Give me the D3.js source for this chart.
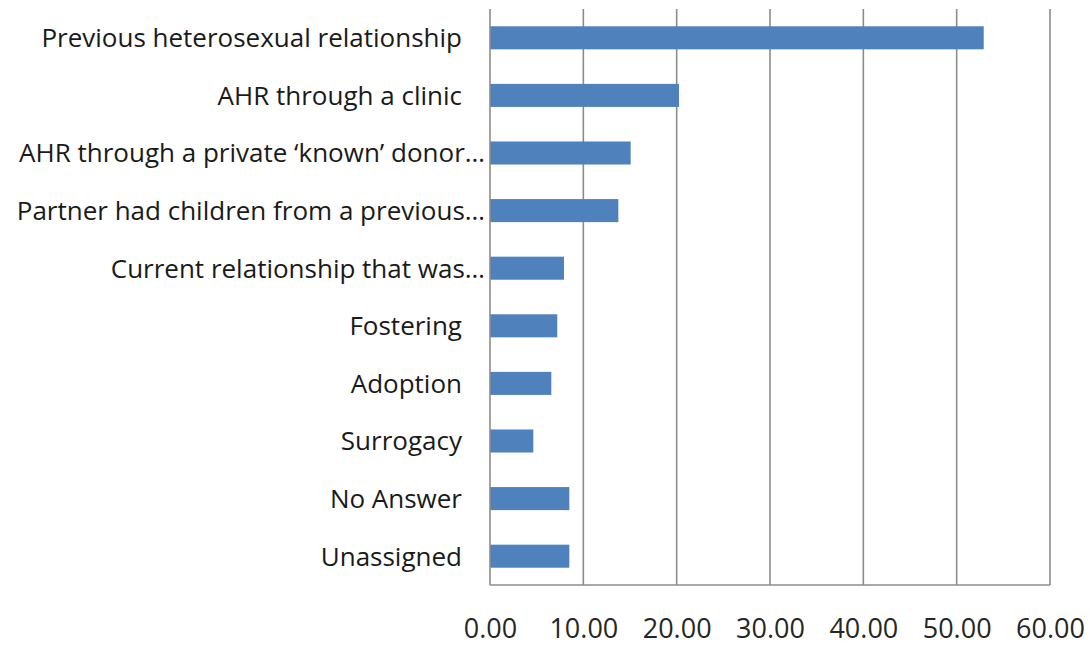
<!DOCTYPE html>
<html><head><meta charset="utf-8">
<script src="https://cdn.jsdelivr.net/npm/d3@7"></script>
<style>body{margin:0;background:#fff}</style>
</head><body><svg id="c" width="1092" height="646"></svg>
<script>
const categories = ["Previous heterosexual relationship","AHR through a clinic","AHR through a private \u2018known\u2019 donor\u2026","Partner had children from a previous\u2026","Current relationship that was\u2026","Fostering","Adoption","Surrogacy","No Answer","Unassigned"];
const values = [52.9,20.25,15.07,13.75,7.93,7.21,6.57,4.64,8.5,8.5];
const ticks = [0,10,20,30,40,50,60];

const svg = d3.select("#c");
const m = {l:490,r:1050,t:9,b:585};
const x = d3.scaleLinear().domain([0,60]).range([m.l,m.r]);
const y = d3.scaleBand().domain(categories).range([m.t,m.b]).paddingInner(0.6).paddingOuter(0.3);
const font = "'Open Sans', Lato, sans-serif";
const grid = "#8c8c8c";

svg.append("g").selectAll("line").data(ticks.slice(1)).join("line")
  .attr("x1",d=>x(d)).attr("x2",d=>x(d)).attr("y1",m.t).attr("y2",m.b)
  .attr("stroke",grid).attr("stroke-width",1.6);

svg.append("g").selectAll("rect").data(values).join("rect")
  .attr("x",x(0)).attr("y",(d,i)=>y(categories[i]))
  .attr("width",d=>x(d)-x(0)).attr("height",y.bandwidth())
  .attr("fill","#4f81bd");

svg.append("line").attr("x1",x(0)).attr("x2",x(0)).attr("y1",m.t).attr("y2",m.b).attr("stroke",grid).attr("stroke-width",1.6);
svg.append("line").attr("x1",x(0)).attr("x2",x(60)).attr("y1",m.b).attr("y2",m.b).attr("stroke",grid).attr("stroke-width",1.6);

const xa = d3.axisBottom(x).tickValues(ticks).tickFormat(d3.format(".2f")).tickSize(0).tickPadding(0);
const gx = svg.append("g").attr("transform",`translate(0,${m.b})`).call(xa);
gx.select(".domain").remove();
gx.selectAll("text").attr("dy",null).attr("y",53).attr("font-size",27).attr("font-family",font).attr("fill","#262626");

svg.append("g").selectAll("text").data(categories).join("text")
  .attr("x",d=>d.endsWith("\u2026") ? 485 : 462)
  .attr("y",d=>y(d)+y.bandwidth()/2).attr("dy","0.36em")
  .attr("text-anchor","end").attr("font-size",26).attr("font-family",font).attr("fill","#1a1a1a")
  .text(d=>d);
</script></body></html>
